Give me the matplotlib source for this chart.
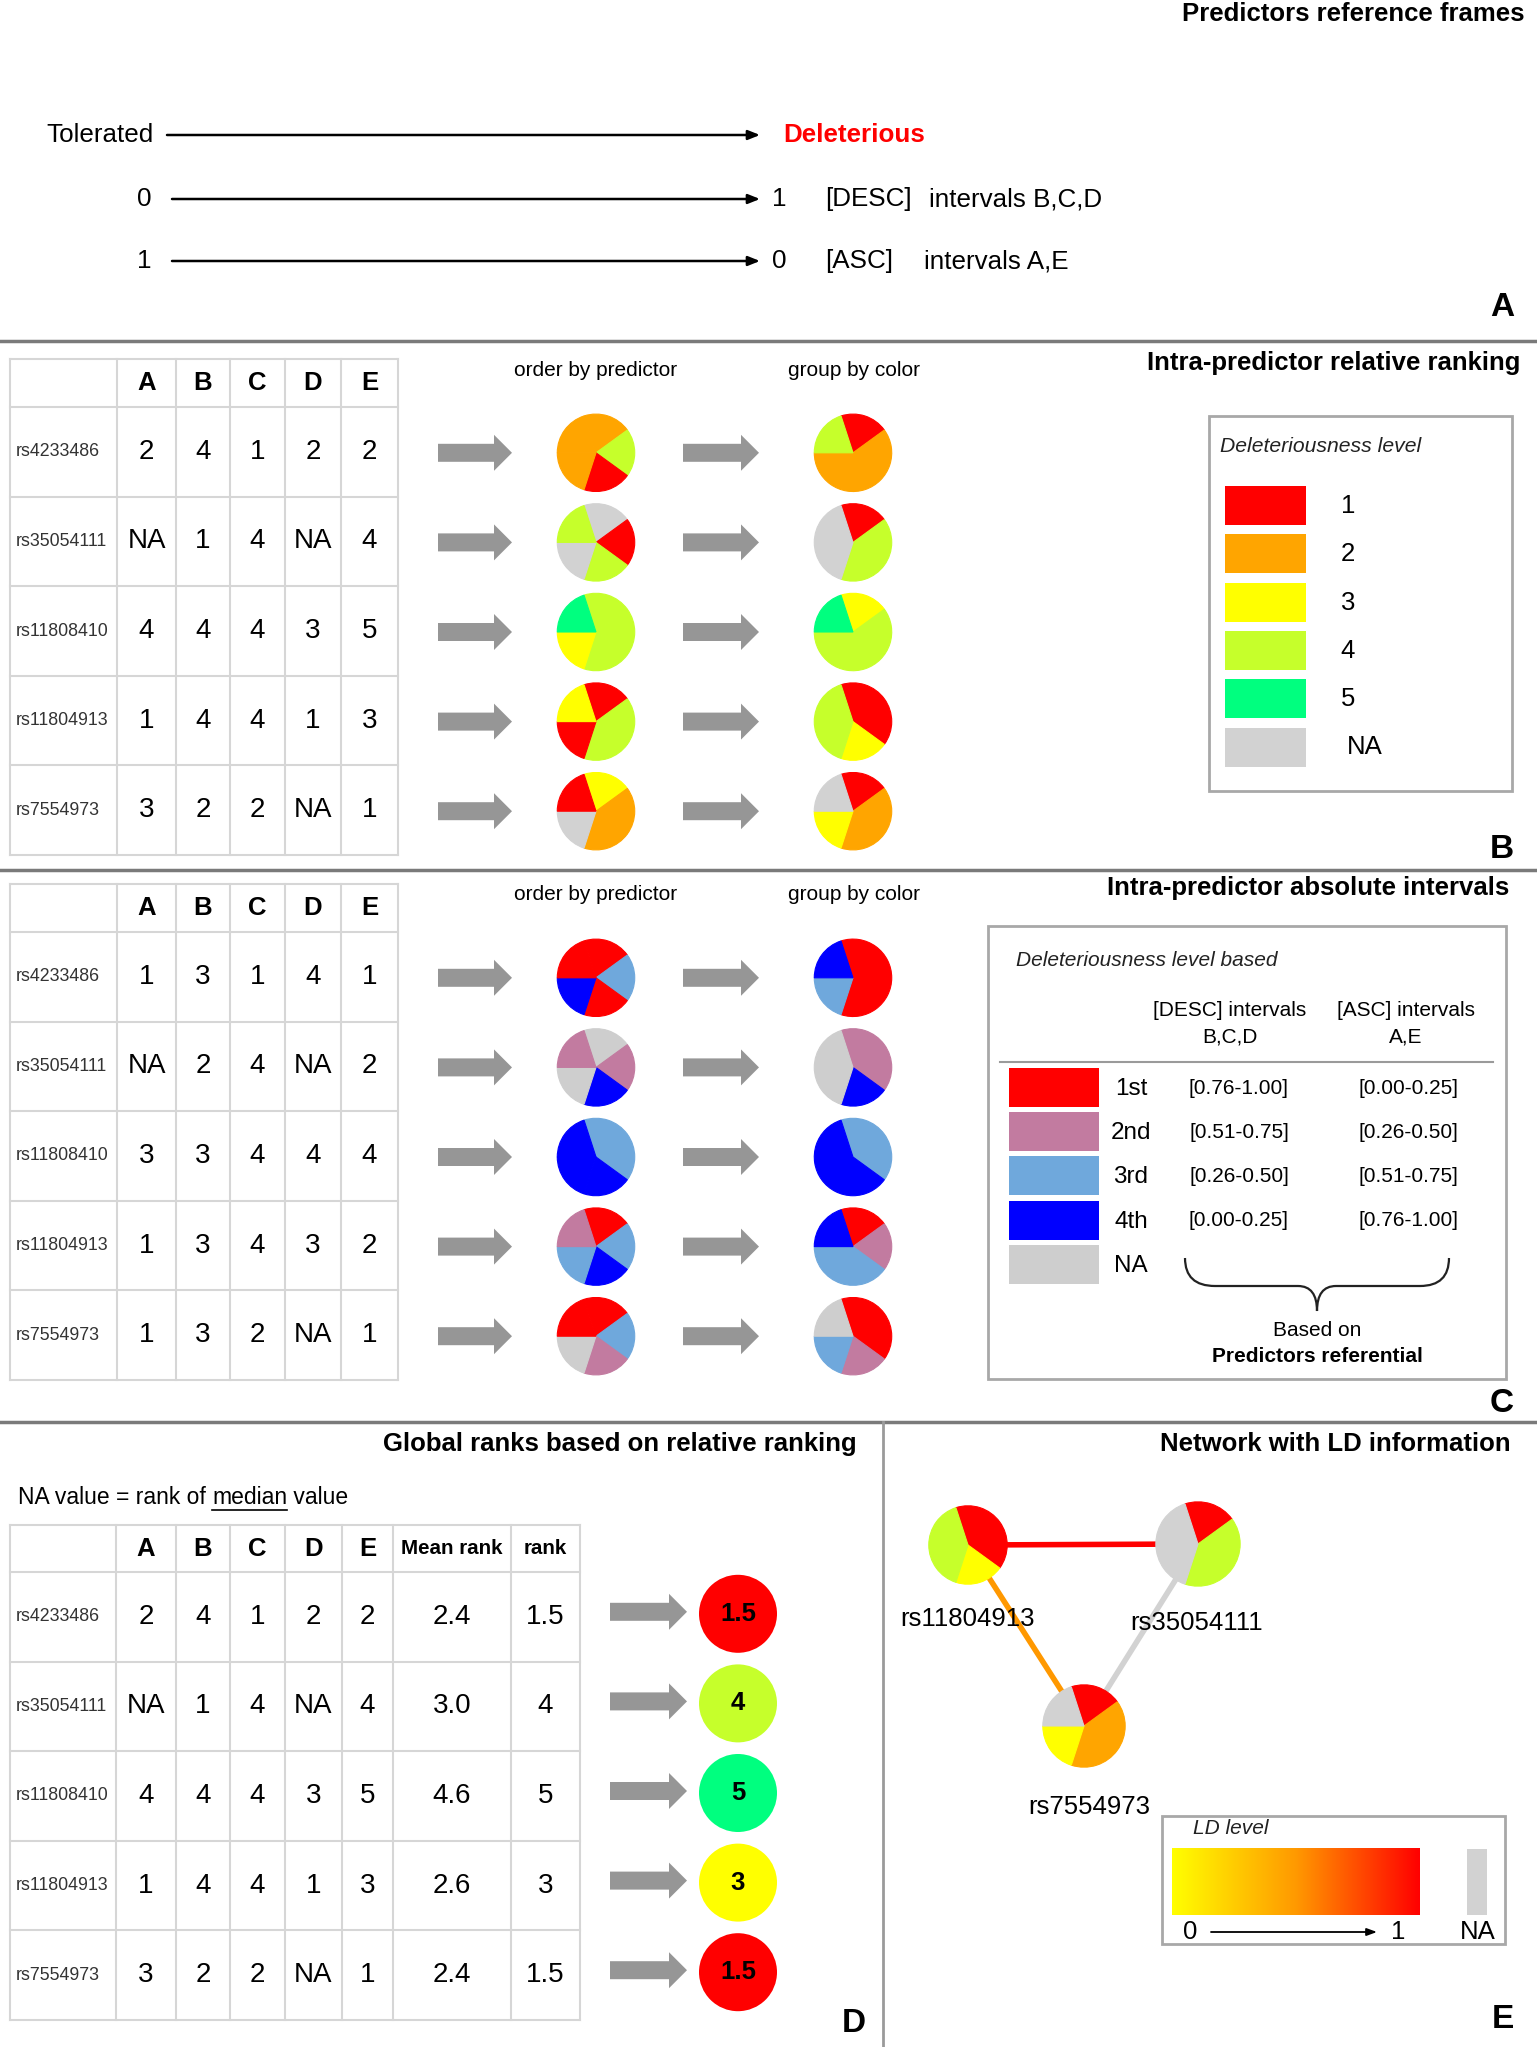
import numpy as np
import matplotlib.pyplot as plt
from matplotlib.patches import Rectangle, FancyArrow, Circle, PathPatch
from matplotlib.path import Path
from matplotlib.colors import LinearSegmentedColormap

plt.rcParams['font.family'] = ['Liberation Sans', 'DejaVu Sans']

# --- data ---
snps = ['rs4233486', 'rs35054111', 'rs11808410', 'rs11804913', 'rs7554973']
predictors = ['A', 'B', 'C', 'D', 'E']
relative_levels = [[2, 4, 1, 2, 2],
                   [None, 1, 4, None, 4],
                   [4, 4, 4, 3, 5],
                   [1, 4, 4, 1, 3],
                   [3, 2, 2, None, 1]]
absolute_levels = [[1, 3, 1, 4, 1],
                   [None, 2, 4, None, 2],
                   [3, 3, 4, 4, 4],
                   [1, 3, 4, 3, 2],
                   [1, 3, 2, None, 1]]
mean_rank = [2.4, 3.0, 4.6, 2.6, 2.4]
global_rank = [1.5, 4, 5, 3, 1.5]

level_names = ['1', '2', '3', '4', '5', 'NA']
level_keys = [1, 2, 3, 4, 5, None]
level_colors = {1: '#ff0000', 2: '#ffa500', 3: '#ffff00', 4: '#c6ff2b',
                5: '#00ff7f', None: '#d2d2d2'}
interval_names = ['1st', '2nd', '3rd', '4th', 'NA']
interval_keys = [1, 2, 3, 4, None]
interval_colors = {1: '#ff0000', 2: '#c27ba0', 3: '#6fa8dc', 4: '#0000ff',
                   None: '#cecece'}
desc_intervals = ['[0.76-1.00]', '[0.51-0.75]', '[0.26-0.50]', '[0.00-0.25]']
asc_intervals = ['[0.00-0.25]', '[0.26-0.50]', '[0.51-0.75]', '[0.76-1.00]']

network_nodes = ['rs11804913', 'rs35054111', 'rs7554973']
ld_edges = [('rs11804913', 'rs35054111', 1.0),
            ('rs11804913', 'rs7554973', 0.5),
            ('rs35054111', 'rs7554973', None)]

# --- canvas in pixel units ---
W, H = 1537, 2047
fig = plt.figure(figsize=(W / 100, H / 100), dpi=100)
ax = fig.add_axes([0, 0, 1, 1])
ax.set_xlim(0, W)
ax.set_ylim(H, 0)
ax.axis('off')

ARROW_GREY = '#969696'
GRID = '#d6d6d6'
ld_cmap = LinearSegmentedColormap.from_list('ld', ['#ffff00', '#ff9900', '#ff0000'])


def fmt(v):
    return 'NA' if v is None else f'{v:g}'


def pie_at(cx, cy, r, keys, sizes, colors):
    a = fig.add_axes([(cx - r) / W, 1 - (cy + r) / H, 2 * r / W, 2 * r / H])
    wedges, _ = a.pie(sizes, colors=[colors[k] for k in keys], startangle=108,
                      counterclock=False)
    for w in wedges:
        w.set_edgecolor(w.get_facecolor())
        w.set_linewidth(0.8)
    a.set_xlim(-1.02, 1.02)
    a.set_ylim(-1.02, 1.02)
    a.axis('off')


def grouped(keys, order):
    present = [k for k in order if keys.count(k) > 0]
    return present, [keys.count(k) for k in present]


def grey_arrow(x0, x1, y):
    ax.add_patch(FancyArrow(x0, y, x1 - x0, 0, width=18, head_width=36,
                            head_length=18, length_includes_head=True,
                            color=ARROW_GREY, lw=0))


def draw_table(xs, ys, headers, rows, cells, hsize=18.5):
    for x in xs:
        ax.plot([x, x], [ys[0], ys[-1]], color=GRID, lw=1.5)
    for y in ys:
        ax.plot([xs[0], xs[-1]], [y, y], color=GRID, lw=1.5)
    for j, h in enumerate(headers):
        fs = hsize if len(h) == 1 else 14.8
        ax.text((xs[j + 1] + xs[j + 2]) / 2, (ys[0] + ys[1]) / 2, h,
                ha='center', va='center', fontsize=fs, fontweight='bold')
    for i, lab in enumerate(rows):
        yc = (ys[i + 1] + ys[i + 2]) / 2
        ax.text(xs[0] + 6, yc, lab, ha='left', va='center', fontsize=12.8,
                color='#333333')
        for j, v in enumerate(cells[i]):
            ax.text((xs[j + 1] + xs[j + 2]) / 2, yc, v, ha='center',
                    va='center', fontsize=20)


def separator(y):
    ax.plot([0, W], [y, y], color='#7a7a7a', lw=2.5)


# ---------------- panel A ----------------
ax.text(1524, 14, 'Predictors reference frames', ha='right', va='center',
        fontsize=18.5, fontweight='bold')
a_rows = [(135, 167), (199, 172), (261, 172)]
for y, x0 in a_rows:
    ax.annotate('', xy=(760, y), xytext=(x0, y),
                arrowprops=dict(arrowstyle='-|>,head_length=0.7,head_width=0.28',
                                lw=1.8, color='black', shrinkA=0, shrinkB=0))
ax.text(46, 135, 'Tolerated', ha='left', va='center', fontsize=18.7)
ax.text(783, 135, 'Deleterious', ha='left', va='center', fontsize=18.7,
        fontweight='bold', color='#ff0000')
ax.text(144, 199, '0', ha='center', va='center', fontsize=18.7)
ax.text(779, 199, '1', ha='center', va='center', fontsize=18.7)
ax.text(825, 199, '[DESC]', ha='left', va='center', fontsize=18.7)
ax.text(929, 199, 'intervals B,C,D', ha='left', va='center', fontsize=18.7)
ax.text(144, 261, '1', ha='center', va='center', fontsize=18.7)
ax.text(779, 261, '0', ha='center', va='center', fontsize=18.7)
ax.text(825, 261, '[ASC]', ha='left', va='center', fontsize=18.7)
ax.text(924, 261, 'intervals A,E', ha='left', va='center', fontsize=18.7)
ax.text(1502, 308, 'A', ha='center', va='center', fontsize=24, fontweight='bold')
separator(341)

# ---------------- panels B and C ----------------
tab_x = [10, 117, 176, 230, 285, 341, 398]
row_step = 89.6
panel_defs = [
    (0, relative_levels, level_colors, level_keys, 'Intra-predictor relative ranking', 1520),
    (525, absolute_levels, interval_colors, interval_keys, 'Intra-predictor absolute intervals', 1509),
]
for dy, levels, colors, order, title, title_x in panel_defs:
    tab_y = [359 + dy, 407 + dy] + [407 + dy + row_step * (i + 1) for i in range(5)]
    draw_table(tab_x, tab_y, predictors, snps,
               [[fmt(v) for v in row] for row in levels])
    ax.text(title_x, 363 + dy, title, ha='right', va='center',
            fontsize=18.5, fontweight='bold')
    ax.text(596, 370 + dy, 'order by predictor', ha='center', va='center',
            fontsize=15)
    ax.text(854, 370 + dy, 'group by color', ha='center', va='center',
            fontsize=15)
    for i, row in enumerate(levels):
        yc = (tab_y[i + 1] + tab_y[i + 2]) / 2 + 1
        grey_arrow(438, 512, yc)
        grey_arrow(683, 759, yc)
        pie_at(596, yc, 39.5, row, [1] * len(row), colors)
        keys, counts = grouped(row, order)
        pie_at(853, yc, 39.5, keys, counts, colors)

# legend B
ax.add_patch(Rectangle((1209, 416), 303, 375, fill=False, ec='#a8a8a8', lw=2))
ax.text(1220, 447, 'Deleteriousness level', ha='left', va='center',
        fontsize=15.2, style='italic', color='#222222')
for i, (k, name) in enumerate(zip(level_keys, level_names)):
    y0 = 486 + 48.3 * i
    ax.add_patch(Rectangle((1225, y0), 81, 39, color=level_colors[k], lw=0))
    ax.text(1348 if name != 'NA' else 1365, y0 + 20, name, ha='center',
            va='center', fontsize=18.5)
ax.text(1502, 849, 'B', ha='center', va='center', fontsize=24, fontweight='bold')
separator(870)

# legend C
ax.add_patch(Rectangle((988, 926), 518, 453, fill=False, ec='#a8a8a8', lw=2))
ax.text(1016, 960, 'Deleteriousness level based', ha='left', va='center',
        fontsize=15, style='italic', color='#222222')
ax.text(1230, 1011, '[DESC] intervals', ha='center', va='center', fontsize=15)
ax.text(1230, 1037, 'B,C,D', ha='center', va='center', fontsize=15)
ax.text(1406, 1011, '[ASC] intervals', ha='center', va='center', fontsize=15)
ax.text(1406, 1037, 'A,E', ha='center', va='center', fontsize=15)
ax.plot([1000, 1493], [1062, 1062], color='#9a9a9a', lw=1.5)
for i, (k, name) in enumerate(zip(interval_keys, interval_names)):
    y0 = 1068 + 44.2 * i
    ax.add_patch(Rectangle((1009, y0), 90, 39, color=interval_colors[k], lw=0))
    ax.text(1131, y0 + 21, name, ha='center', va='center', fontsize=17.5)
    if i < len(desc_intervals):
        ax.text(1239, y0 + 20, desc_intervals[i], ha='center', va='center',
                fontsize=15)
        ax.text(1408, y0 + 20, asc_intervals[i], ha='center', va='center',
                fontsize=15)
brace = Path([(1185, 1258), (1185, 1286), (1215, 1286), (1298, 1286),
              (1317, 1286), (1317, 1311), (1317, 1286), (1336, 1286),
              (1420, 1286), (1449, 1286), (1449, 1258)],
             [Path.MOVETO, Path.CURVE3, Path.CURVE3, Path.LINETO,
              Path.CURVE3, Path.CURVE3, Path.CURVE3, Path.CURVE3,
              Path.LINETO, Path.CURVE3, Path.CURVE3])
ax.add_patch(PathPatch(brace, fill=False, lw=1.6, ec='#222222'))
ax.text(1317, 1331, 'Based on', ha='center', va='center', fontsize=15)
ax.text(1317, 1356, 'Predictors referential', ha='center', va='center',
        fontsize=15, fontweight='bold')
ax.text(1502, 1403, 'C', ha='center', va='center', fontsize=24, fontweight='bold')
separator(1422)
ax.plot([883, 883], [1422, H], color='#9a9a9a', lw=2)

# ---------------- panel D ----------------
ax.text(857, 1444, 'Global ranks based on relative ranking', ha='right',
        va='center', fontsize=18.5, fontweight='bold')
fig.canvas.draw()
rend = fig.canvas.get_renderer()
x = 18
for part in ['NA value = rank of ', 'median', ' value']:
    t = ax.text(x, 1497, part, ha='left', va='center', fontsize=16.5)
    bb = t.get_window_extent(rend).transformed(ax.transData.inverted())
    if part == 'median':
        ax.plot([bb.x0, bb.x1], [1510, 1510], color='black', lw=1.2)
    x = bb.x1
d_x = [10, 116, 176, 230, 285, 342, 393, 511, 580]
d_y = [1525, 1572] + [1572 + 89.6 * (i + 1) for i in range(5)]
d_headers = predictors + ['Mean rank', 'rank']
d_cells = [[fmt(v) for v in row] + [f'{m:.1f}', fmt(r)]
           for row, m, r in zip(relative_levels, mean_rank, global_rank)]
draw_table(d_x, d_y, d_headers, snps, d_cells)
for i, r in enumerate(global_rank):
    yc = (d_y[i + 1] + d_y[i + 2]) / 2
    grey_arrow(610, 687, yc - 5)
    ax.add_patch(Circle((738, yc - 3), 39, color=level_colors[int(r)], lw=0))
    ax.text(738, yc - 3, fmt(r), ha='center', va='center', fontsize=18.5,
            fontweight='bold')
ax.text(854, 2024, 'D', ha='center', va='center', fontsize=24, fontweight='bold')

# ---------------- panel E ----------------
ax.text(1511, 1444, 'Network with LD information', ha='right', va='center',
        fontsize=18.5, fontweight='bold')
node_pos = {'rs11804913': (968, 1545, 40), 'rs35054111': (1198, 1544, 43),
            'rs7554973': (1084, 1726, 42)}
label_pos = {'rs11804913': (968, 1619), 'rs35054111': (1197, 1623),
             'rs7554973': (1089, 1807)}
for n1, n2, ld in ld_edges:
    c = level_colors[None] if ld is None else ld_cmap(ld)
    ax.plot([node_pos[n1][0], node_pos[n2][0]], [node_pos[n1][1], node_pos[n2][1]],
            color=c, lw=4, solid_capstyle='butt', zorder=1)
for n in network_nodes:
    cx, cy, r = node_pos[n]
    keys, counts = grouped(relative_levels[snps.index(n)], level_keys)
    pie_at(cx, cy, r, keys, counts, level_colors)
    ax.text(label_pos[n][0], label_pos[n][1], n, ha='center', va='center',
            fontsize=18.5)

ax.add_patch(Rectangle((1162, 1816), 343, 128, fill=False, ec='#a8a8a8', lw=2))
ax.text(1193, 1829, 'LD level', ha='left', va='center', fontsize=15,
        style='italic', color='#222222')
ax.imshow(np.linspace(0, 1, 256)[None, :], extent=[1172, 1420, 1915, 1848],
          cmap=ld_cmap, aspect='auto', zorder=2)
ax.add_patch(Rectangle((1467, 1849), 20, 66, color=level_colors[None], lw=0))
ax.text(1190, 1932, '0', ha='center', va='center', fontsize=18.5)
ax.text(1398, 1932, '1', ha='center', va='center', fontsize=18.5)
ax.text(1478, 1932, 'NA', ha='center', va='center', fontsize=18.5)
ax.annotate('', xy=(1377, 1932), xytext=(1211, 1932),
            arrowprops=dict(arrowstyle='-|>,head_length=0.6,head_width=0.22',
                            lw=1.3, color='black', shrinkA=0, shrinkB=0))
ax.text(1503, 2020, 'E', ha='center', va='center', fontsize=24, fontweight='bold')

ax.set_xlim(0, W)
ax.set_ylim(H, 0)
fig.savefig('out.png', dpi=100, facecolor='white')
